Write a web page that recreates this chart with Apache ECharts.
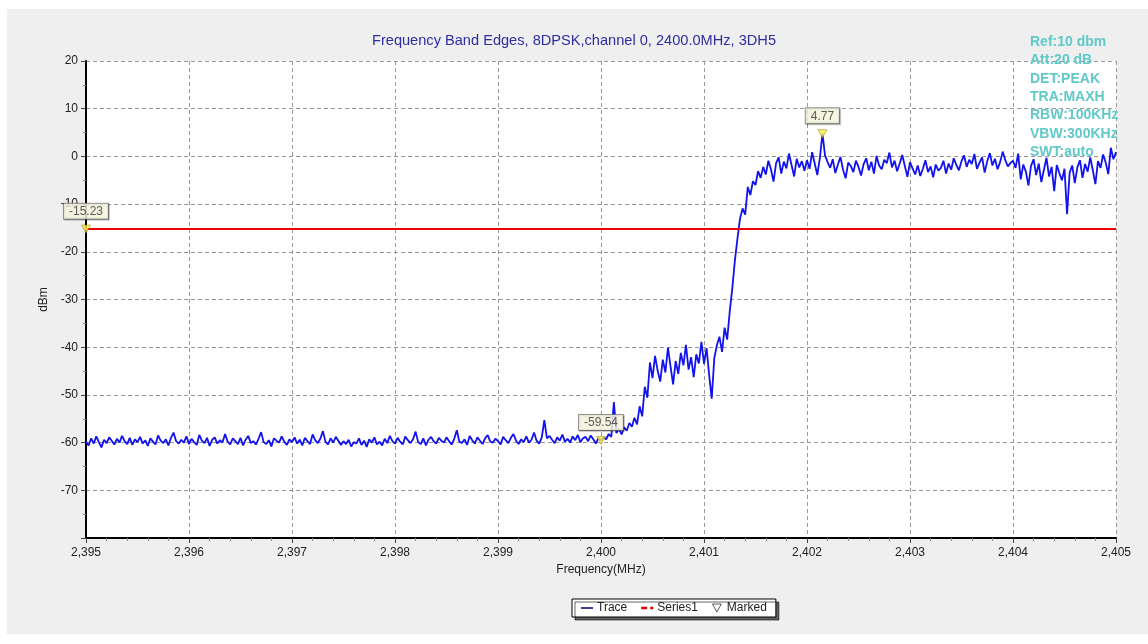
<!DOCTYPE html>
<html>
<head>
<meta charset="utf-8">
<title>Frequency Band Edges</title>
<script src="https://cdn.jsdelivr.net/npm/echarts@6/dist/echarts.min.js"></script>
<style>
  html, body { margin: 0; padding: 0; background: #fff; }
  #main { width: 1148px; height: 644px; }
</style>
</head>
<body>
<div id="main"></div>
<script>
// sweep grid of the trace (MHz)
var traceStart = 2395;
var traceStep = 0.025;

// trace level (dBm), one value per sweep point
var traceLevel = [
  // 2395.0 - 2395.5
  -59.8,-60.6,-59.1,-60.2,-58.7,-59.9,-61.0,-59.4,-60.1,-58.9,-59.6,-60.4,-59.2,-60.0,-58.6,-59.7,-60.3,-59.0,-60.5,-59.3,
  // 2395.5 - 2396
  -59.9,-58.8,-60.2,-59.5,-60.7,-59.1,-59.8,-60.4,-58.5,-59.6,-60.1,-59.3,-60.6,-59.0,-57.9,-59.7,-60.2,-59.4,-60.0,-58.7,
  // 2396 - 2396.5
  -60.3,-59.2,-59.9,-60.5,-58.4,-59.6,-60.1,-59.0,-60.7,-59.4,-58.9,-60.2,-59.5,-60.0,-58.2,-59.8,-60.4,-59.1,-59.7,-60.3,
  // 2396.5 - 2397
  -59.0,-60.6,-59.4,-58.6,-60.1,-59.7,-60.4,-59.2,-57.8,-59.9,-60.3,-59.5,-60.8,-59.1,-59.6,-60.0,-58.7,-59.8,-60.5,-59.3,
  // 2397 - 2397.5
  -59.9,-58.9,-60.2,-59.4,-60.6,-59.0,-59.7,-60.3,-58.3,-59.5,-60.1,-59.2,-57.6,-59.8,-60.4,-59.1,-60.0,-58.8,-59.6,-60.5,
  // 2397.5 - 2398
  -59.7,-60.3,-59.4,-60.8,-59.9,-60.2,-59.1,-60.5,-59.6,-60.9,-59.3,-60.0,-58.9,-60.4,-59.8,-60.6,-59.2,-60.1,-58.6,-59.7,
  // 2398 - 2398.5
  -60.2,-59.0,-59.8,-60.4,-58.7,-59.5,-60.1,-59.3,-57.7,-59.9,-60.3,-59.1,-60.6,-59.4,-58.8,-59.7,-60.2,-59.0,-59.6,-60.0,
  // 2398.5 - 2399
  -58.9,-59.7,-60.4,-59.2,-57.4,-59.8,-60.1,-59.3,-60.5,-58.6,-59.5,-60.2,-58.9,-59.6,-60.3,-59.1,-58.4,-59.8,-60.0,-59.2,
  // 2399 - 2399.5
  -59.7,-60.4,-58.8,-59.5,-60.1,-59.0,-58.2,-59.6,-60.3,-59.3,-59.9,-58.7,-60.0,-59.4,-57.9,-59.6,-60.2,-58.9,-55.3,-59.1,
  // 2399.5 - 2400
  -58.6,-59.4,-60.1,-58.9,-59.6,-58.3,-59.8,-59.2,-60.0,-58.7,-59.5,-58.4,-59.9,-59.1,-58.8,-59.7,-58.5,-59.3,-60.2,-59.0,
  // 2400 - 2400.5
  -59.54,-58.9,-59.3,-58.2,-58.8,-51.5,-58.0,-57.1,-58.3,-56.8,-57.5,-55.9,-56.7,-54.8,-56.2,-52.4,-54.5,-48.3,-50.6,-43.2,
  // 2400.5 - 2401
  -46.5,-41.8,-44.9,-47.2,-42.6,-45.3,-40.1,-44.0,-47.8,-42.9,-45.6,-41.2,-43.8,-39.5,-44.7,-42.1,-46.3,-41.5,-43.4,-38.9,
  // 2401 - 2401.5
  -43.5,-40.2,-45.8,-50.8,-42.3,-39.6,-37.8,-41.0,-35.9,-38.4,-32.5,-27.6,-21.8,-17.2,-13.0,-10.9,-12.2,-6.4,-8.1,-5.2,
  // 2401.5 - 2402
  -6.0,-3.1,-4.5,-2.2,-3.8,-0.9,-2.7,-5.3,-1.4,-0.2,-3.6,-1.1,-2.5,0.6,-1.8,-4.2,-0.5,-2.3,-1.0,-3.0,
  // 2402 - 2402.5
  -0.8,-2.6,0.9,-1.5,-3.9,-0.3,4.77,0.2,-1.2,-2.4,-0.6,-3.5,-1.7,-0.1,-2.8,-4.6,-1.3,-2.0,-3.3,-0.9,
  // 2402.5 - 2403
  -2.2,-4.0,-1.6,-0.4,-2.9,-1.1,-3.6,0.1,-1.9,-2.7,-0.7,-1.4,0.8,-2.3,-0.9,-3.1,-1.5,0.3,-2.0,-4.3,
  // 2403 - 2403.5
  -1.2,-2.5,-3.8,-1.9,-4.1,-2.6,-0.8,-3.3,-2.1,-4.4,-1.7,-3.0,-2.4,-0.9,-3.6,-1.5,-2.8,-0.4,-1.8,-2.9,
  // 2403.5 - 2404
  -1.0,0.2,-2.2,-0.7,-1.6,0.5,-2.6,-1.3,-0.2,-3.4,-1.0,0.7,-1.9,-0.5,-2.7,-1.2,1.0,-0.8,-2.1,-1.4,
  // 2404 - 2404.5
  -0.9,-2.4,0.6,-4.8,-1.7,-3.2,-6.1,-2.0,-0.6,-3.9,-1.5,-5.4,-2.8,-0.3,-4.2,-2.2,-7.3,-1.8,-3.5,-5.0,
  // 2404.5 - 2405
  -2.6,-12.1,-3.4,-1.9,-5.6,-2.3,-0.8,-4.5,-1.6,-3.2,-0.2,-2.9,-5.8,-1.0,-2.4,0.4,-1.3,-3.7,1.8,-0.6,0.9
];

// limit line (Series1)
var limitFreq = [2395, 2405];
var limitLevel = [-15.23, -15.23];

// marked points
var markFreq = [2395, 2402.15, 2400.0];
var markLevel = [-15.23, 4.77, -59.54];

// analyser settings shown top right
var settingText = ['Ref:10 dbm', 'Att:20 dB', 'DET:PEAK', 'TRA:MAXH', 'RBW:100KHz', 'VBW:300KHz', 'SWT:auto'];

var traceData = traceLevel.map(function (v, i) {
  return [+(traceStart + i * traceStep).toFixed(3), v];
});
var limitData = limitFreq.map(function (f, i) { return [f, limitLevel[i]]; });
var markData = markFreq.map(function (f, i) { return [f, markLevel[i]]; });

var triDown = 'path://M0,0L10,0L5,9Z';

var chart = echarts.init(document.getElementById('main'));

var option = {
  animation: false,
  backgroundColor: '#fff',
  textStyle: { fontFamily: 'Arial, "Liberation Sans", sans-serif' },
  title: {
    text: 'Frequency Band Edges, 8DPSK,channel 0, 2400.0MHz, 3DH5',
    left: 372,
    top: 33,
    padding: 0,
    textStyle: { color: '#2e2e9e', fontSize: 14.6, fontWeight: 'normal' }
  },
  graphic: [{
    type: 'rect',
    z: -10,
    silent: true,
    shape: { x: 7, y: 9, width: 1141, height: 625 },
    style: { fill: '#efefef' }
  }, {
    type: 'text',
    z: 1,
    silent: true,
    left: 1030,
    top: 33,
    style: {
      text: settingText.join('\n'),
      fill: '#62c9c9',
      font: 'bold 14px Arial, "Liberation Sans", sans-serif',
      lineHeight: 18.3
    }
  }],
  legend: {
    left: 572,
    top: 599,
    padding: [3, 9],
    itemGap: 14,
    itemWidth: 12,
    itemHeight: 8,
    backgroundColor: '#fff',
    borderColor: '#000',
    borderWidth: 1,
    borderRadius: 0,
    shadowColor: 'rgba(0,0,0,0.6)',
    shadowBlur: 0,
    shadowOffsetX: 3,
    shadowOffsetY: 3,
    textStyle: { fontSize: 12, color: '#222', padding: [0, 0, 0, -1] },
    data: [
      { name: 'Trace', icon: 'path://M0,4L10,4L10,5.4L0,5.4Z', itemStyle: { color: '#1a1a80' } },
      { name: 'Series1', icon: 'path://M0,4L4,4L4,5.6L0,5.6Z M6,4L8,4L8,5.6L6,5.6Z', itemStyle: { color: '#e00000' } },
      { name: 'Marked', icon: triDown, itemStyle: { color: '#fff', borderColor: '#333', borderWidth: 1 } }
    ]
  },
  grid: {
    left: 86,
    top: 61,
    right: 32,
    bottom: 106,
    show: true,
    backgroundColor: '#fff',
    borderWidth: 0
  },
  xAxis: {
    type: 'value',
    min: 2395,
    max: 2405,
    interval: 1,
    splitNumber: 10,
    name: 'Frequency(MHz)',
    nameLocation: 'middle',
    nameGap: 25,
    nameTextStyle: { color: '#222', fontSize: 12 },
    axisLine: { onZero: false, lineStyle: { color: '#000', width: 2 } },
    axisTick: { show: true, length: 5, lineStyle: { color: '#444' } },
    minorTick: { show: true, splitNumber: 5, length: 3, lineStyle: { color: '#888' } },
    axisLabel: {
      color: '#222',
      fontSize: 12,
      margin: 9,
      formatter: function (v) {
        var s = String(Math.round(v));
        return s.slice(0, 1) + ',' + s.slice(1);
      }
    },
    splitLine: { show: true, lineStyle: { color: '#999', type: [4, 3], width: 1 } }
  },
  yAxis: {
    type: 'value',
    min: -80,
    max: 20,
    interval: 10,
    name: 'dBm',
    nameLocation: 'middle',
    nameGap: 36,
    nameTextStyle: { color: '#222', fontSize: 12 },
    axisLine: { show: true, onZero: false, lineStyle: { color: '#000', width: 2 } },
    axisTick: { show: true, length: 5, lineStyle: { color: '#444' } },
    minorTick: { show: true, splitNumber: 2, length: 3, lineStyle: { color: '#888' } },
    axisLabel: {
      color: '#222',
      fontSize: 12,
      margin: 8,
      formatter: function (v) { return v === -80 ? '' : String(v); }
    },
    splitLine: { show: true, lineStyle: { color: '#999', type: [4, 3], width: 1 } }
  },
  series: [{
    name: 'Trace',
    type: 'line',
    data: traceData,
    showSymbol: false,
    symbol: 'none',
    z: 3,
    lineStyle: { color: '#1212ee', width: 1.8 },
    itemStyle: { color: '#1212ee' }
  }, {
    name: 'Series1',
    type: 'line',
    data: limitData,
    showSymbol: false,
    symbol: 'none',
    z: 4,
    lineStyle: { color: '#ee0000', width: 2 },
    itemStyle: { color: '#ee0000' }
  }, {
    name: 'Marked',
    type: 'scatter',
    data: markData,
    symbol: triDown,
    symbolSize: [9, 8],
    clip: false,
    z: 5,
    itemStyle: { color: '#ffee44', borderColor: '#8a7a00', borderWidth: 0.6 },
    label: {
      show: true,
      position: 'top',
      distance: 6,
      formatter: function (p) { return p.value[1].toFixed(2); },
      color: '#333',
      fontSize: 12,
      backgroundColor: '#ffffe6',
      borderColor: '#777',
      borderWidth: 1,
      padding: [2, 5, 1, 5],
      shadowColor: 'rgba(0,0,0,0.25)',
      shadowOffsetX: 1,
      shadowOffsetY: 1
    }
  }]
};

chart.setOption(option);
</script>
</body>
</html>
